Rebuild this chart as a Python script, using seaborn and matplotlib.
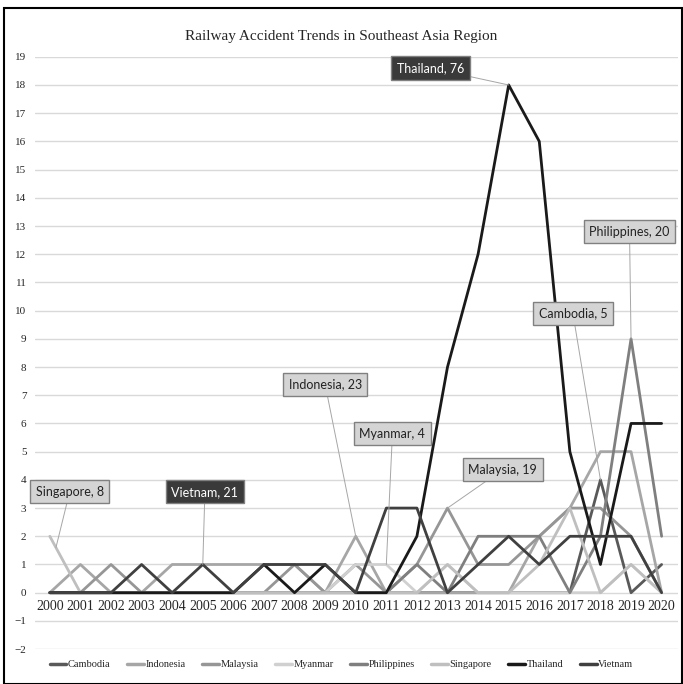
import numpy as np
import pandas as pd
import matplotlib
matplotlib.use("Agg")
import matplotlib.pyplot as plt
from matplotlib.patches import Rectangle
import seaborn as sns

# data
years = list(range(2000, 2021))
cambodia    = [0,0,0,0,0,0,0,0,0,0,0,0,0,0,0,0,0,0,4,0,1]
indonesia   = [0,1,0,0,1,1,1,1,1,0,2,0,0,0,0,0,2,3,5,5,0]
malaysia    = [0,0,1,0,0,0,0,0,1,0,1,0,1,3,1,1,2,3,3,2,0]
myanmar     = [0,0,0,0,0,0,0,0,0,0,1,1,0,1,0,0,0,0,0,1,0]
philippines = [0,0,0,0,0,0,0,0,0,0,0,0,1,0,2,2,2,0,2,9,2]
singapore   = [2,0,0,0,0,0,0,0,0,0,0,0,0,1,0,0,1,3,0,1,0]
thailand    = [0,0,0,0,0,0,0,1,0,1,0,0,2,8,12,18,16,5,1,6,6]
vietnam     = [0,0,0,1,0,1,0,1,1,1,0,3,3,0,1,2,1,2,2,2,0]

countries = ["Cambodia", "Indonesia", "Malaysia", "Myanmar",
             "Philippines", "Singapore", "Thailand", "Vietnam"]
series = [cambodia, indonesia, malaysia, myanmar,
          philippines, singapore, thailand, vietnam]
greys = ["#595959", "#a6a6a6", "#969696", "#d0d0d0",
         "#7f7f7f", "#bfbfbf", "#1a1a1a", "#404040"]

# callouts: (country, year pointed at, label box position)
callouts = [
    ("Singapore", 2000.2, (2000.65, 3.58)),
    ("Vietnam", 2005, (2005.07, 3.58)),
    ("Indonesia", 2010, (2009.0, 7.38)),
    ("Myanmar", 2011, (2011.2, 5.64)),
    ("Malaysia", 2013, (2014.8, 4.36)),
    ("Thailand", 2015, (2012.45, 18.6)),
    ("Cambodia", 2018, (2017.1, 9.9)),
    ("Philippines", 2019, (2018.95, 12.8)),
]
dark_boxes = ["Thailand", "Vietnam"]

rows = []
for c, vals in zip(countries, series):
    for y, v in zip(years, vals):
        rows.append({"Year": y, "Accidents": v, "Country": c})
df = pd.DataFrame(rows)
palette = dict(zip(countries, greys))

sns.set_style("white")
plt.rcParams['font.family'] = ['Liberation Serif', 'DejaVu Serif']

fig = plt.figure(figsize=(6.83, 6.84), dpi=100)
ax = fig.add_axes([0.051, 0.051, 0.941, 0.866])

sns.lineplot(data=df, x="Year", y="Accidents", hue="Country", palette=palette,
             hue_order=countries, linewidth=2.0, ax=ax, legend=True)

ax.set_xlim(1999.51, 2020.52)
ax.set_ylim(-2, 19)
ax.set_yticks(range(-2, 20))
ax.set_xticks(years)
ax.set_xticklabels([str(y) for y in years], fontsize=7.8)
ax.tick_params(axis='y', labelsize=8, length=0, pad=6)
ax.tick_params(axis='x', length=0, pad=5)
ax.yaxis.grid(True, color="#d9d9d9", linewidth=1.0)
ax.set_axisbelow(True)
for s in ["top", "right", "left"]:
    ax.spines[s].set_visible(False)
ax.spines["bottom"].set_position(("data", 0))
ax.spines["bottom"].set_color("none")
ax.set_xlabel("")
ax.set_ylabel("")

# callout labels
totals = dict(zip(countries, [sum(v) for v in series]))
for c, yr, pos in callouts:
    vals = series[countries.index(c)]
    yv = np.interp(yr, years, vals)
    dark = c in dark_boxes
    ax.annotate("{}, {}".format(c, totals[c]), xy=(yr, yv), xytext=pos,
                ha="center", va="center", fontsize=9, family="Lato",
                color="white" if dark else "#222222",
                bbox=dict(boxstyle="square,pad=0.45",
                          fc="#3a3a3a" if dark else "#d4d4d4",
                          ec="#808080", lw=1.0),
                arrowprops=dict(arrowstyle="-", color="#a6a6a6", lw=0.7,
                                shrinkA=0, shrinkB=0),
                zorder=5)

fig.text(0.5, 0.947, "Railway Accident Trends in Southeast Asia Region",
         ha="center", va="center", fontsize=11)

handles, labels = ax.get_legend_handles_labels()
ax.get_legend().remove()
for h in handles:
    h.set_linewidth(2.5)
fig.legend(handles, labels, loc="center", bbox_to_anchor=(0.5, 0.028), ncol=8,
           frameon=False, fontsize=7.5, handlelength=1.6, handletextpad=0.15,
           columnspacing=1.6)

fig.patches.append(Rectangle((0.006, 0.0), 0.993, 0.989, transform=fig.transFigure,
                             fill=False, edgecolor="black", linewidth=1.5))

fig.savefig("out.png", dpi=100)
